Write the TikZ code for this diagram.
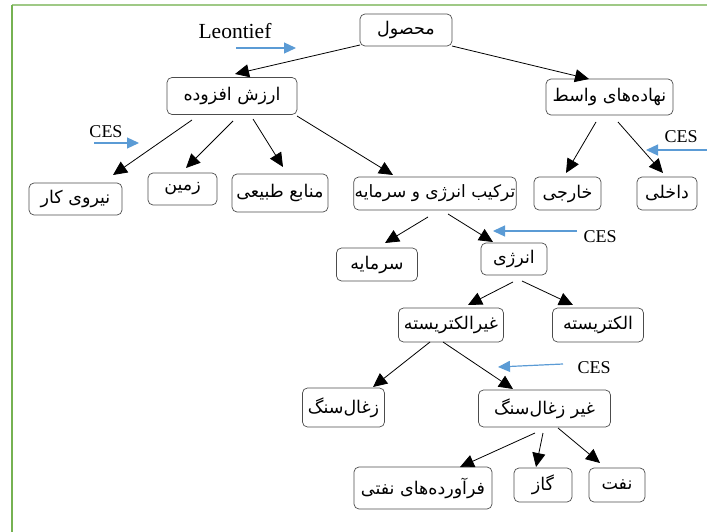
\documentclass[tikz,border=0pt]{standalone}
\usepackage{fontspec}
\setmainfont{Liberation Serif}
\newfontfamily\farsi[Script=Arabic]{DejaVu Sans}
\usepackage{tikz}
\usetikzlibrary{arrows.meta}
\usetikzlibrary{calc}
\TeXXeTstate=1
\definecolor{cesblue}{RGB}{91,155,213}
\definecolor{framegreen}{RGB}{118,178,82}
\newcommand{\fa}[1]{\beginR #1\endR}

\begin{document}
\begin{tikzpicture}[x=1pt, y=-1pt, >={Triangle[length=14pt,width=13pt]}]
      \tikzstyle{box} = [draw=black!70, rounded corners=5pt, line width=0.7pt, minimum height=33pt,
         inner sep=2pt, font=\farsi\fontsize{17.5}{20}\selectfont]
      \tikzstyle{line} = [draw=black, line width=0.8pt, ->]
      \tikzstyle{ces} = [draw=cesblue, line width=1.2pt, -{Triangle[length=12pt,width=11pt]}]
      \tikzstyle{ceslabel} = [font=\fontsize{18}{22}\selectfont, inner sep=0pt]
      \useasboundingbox (0,0) rectangle (707,532);
      % frame
      \draw[framegreen!70, line width=1.2pt] (12,5) -- (707,5);
      \draw[framegreen, line width=1.5pt] (12,5) -- (12,532);

      %nodes
      \node[box, minimum width=92pt, minimum height=32pt]  (mahsul)      at (406,30)    {\fa{محصول}};
      \node[box, minimum width=130pt, minimum height=37pt] (arzesh)      at (232,96)    {\fa{ارزش افزوده}};
      \node[box, minimum width=127pt, minimum height=36pt] (nahade)      at (609.5,97)  {\fa{نهاده‌های واسط}};
      \node[box, minimum width=93pt, minimum height=32pt]  (niru)        at (75.5,199)  {\fa{نیروی کار}};
      \node[box, minimum width=69pt, minimum height=32pt]  (zamin)       at (182.5,189) {\fa{زمین}};
      \node[box, minimum width=96pt, minimum height=38pt]  (manabe)      at (280,193)   {\fa{منابع طبیعی}};
      \node[box, minimum width=161pt, inner xsep=1pt, font=\farsi\fontsize{17}{20}\selectfont]
                                                           (tarkib)      at (435,193.5) {\fa{ترکیب انرژی و سرمایه}};
      \node[box, minimum width=67pt]                       (khareji)     at (567.5,193.5) {\fa{خارجی}};
      \node[box, minimum width=60pt]                       (dakheli)     at (667,193.5) {\fa{داخلی}};
      \node[box, minimum width=81pt]                       (sarmaye)     at (377,264.5) {\fa{سرمایه}};
      \node[box, minimum width=66pt, minimum height=32pt]  (energy)      at (514,259)   {\fa{انرژی}};
      \node[box, minimum width=105pt, minimum height=34pt] (gheirelec)   at (451,325)   {\fa{غیرالکتریسته}};
      \node[box, minimum width=91pt, minimum height=34pt]  (elec)        at (598,325)   {\fa{الکتریسته}};
      \node[box, minimum width=82pt, minimum height=39pt]  (zoghal)      at (343.5,407.5) {\fa{زغال‌سنگ}};
      \node[box, minimum width=132pt, minimum height=37pt] (gheirzoghal) at (544.5,408.5) {\fa{غیر زغال‌سنگ}};
      \node[box, minimum width=138pt, minimum height=42pt] (faravarde)   at (423,488)   {\fa{فرآورده‌های نفتی}};
      \node[box, minimum width=58pt, minimum height=34pt]  (gaz)         at (543,485)   {\fa{گاز}};
      \node[box, minimum width=56pt, minimum height=34pt]  (naft)        at (617,485)   {\fa{نفت}};

      %labels
      \node[ceslabel, font=\fontsize{21.5}{24}\selectfont] (leontief) at (235,31)  {Leontief};
      \node[ceslabel] (cesa)     at (106,132) {CES};
      \node[ceslabel] (cesb)     at (681,137) {CES};
      \node[ceslabel] (cesc)     at (600,237) {CES};
      \node[ceslabel] (cesd)     at (594,368) {CES};

      %lines
      \draw [line] ($(mahsul)+(-46,15)$)      -- ($(arzesh)+(3,-22)$);
      \draw [line] ($(mahsul)+(46,16)$)       -- ($(nahade)+(-20.5,-18)$);
      \draw [line] ($(arzesh)+(-40,24)$)      -- ($(niru)+(37.5,-24)$);
      \draw [line] ($(arzesh)+(1,25)$)        -- ($(zamin)+(3.5,-21)$);
      \draw [line] ($(arzesh)+(21,23)$)       -- ($(manabe)+(3,-26)$);
      \draw [line] ($(arzesh)+(65,20)$)       -- ($(tarkib)+(-42,-18.5)$);
      \draw [line] ($(nahade)+(-13.5,25)$)    -- ($(khareji)+(-1.5,-20.5)$);
      \draw [line] ($(nahade)+(8.5,25)$)      -- ($(dakheli)+(-4,-20.5)$);
      \draw [line] ($(tarkib)+(-7,23.5)$)     -- ($(sarmaye)+(8,-21.5)$);
      \draw [line] ($(tarkib)+(13,20.5)$)     -- ($(energy)+(-21,-17)$);
      \draw [line] ($(energy)+(-1,23)$)       -- ($(gheirelec)+(17,-20)$);
      \draw [line] ($(energy)+(8,22)$)        -- ($(elec)+(-25,-20)$);
      \draw [line] ($(gheirelec)+(-21,17)$)   -- ($(zoghal)+(29.5,-20.5)$);
      \draw [line] ($(gheirelec)+(-8,17)$)    -- ($(gheirzoghal)+(-31.5,-19.5)$);
      \draw [line] ($(gheirzoghal)+(-9.5,24.5)$) -- ($(faravarde)+(37,-21)$);
      \draw [line] ($(gheirzoghal)+(-1.5,24.5)$) -- ($(gaz)+(-7,-18)$);
      \draw [line] ($(gheirzoghal)+(13.5,19.5)$) -- ($(naft)+(-17,-22)$);

      %elasticities
      \draw [ces] ($(leontief)+(1,17)$)  -- ($(leontief)+(61,17)$);
      \draw [ces] ($(cesa)+(-12,11)$)    -- ($(cesa)+(33,11)$);
      \draw [ces] ($(cesb)+(26,13)$)     -- ($(cesb)+(-35,13)$);
      \draw [ces] ($(cesc)+(-23,-6)$)    -- ($(cesc)+(-107,-6)$);
      \draw [ces] ($(cesd)+(-31,-4)$)    -- ($(cesd)+(-96,-1)$);
    \end{tikzpicture}
\end{document}
